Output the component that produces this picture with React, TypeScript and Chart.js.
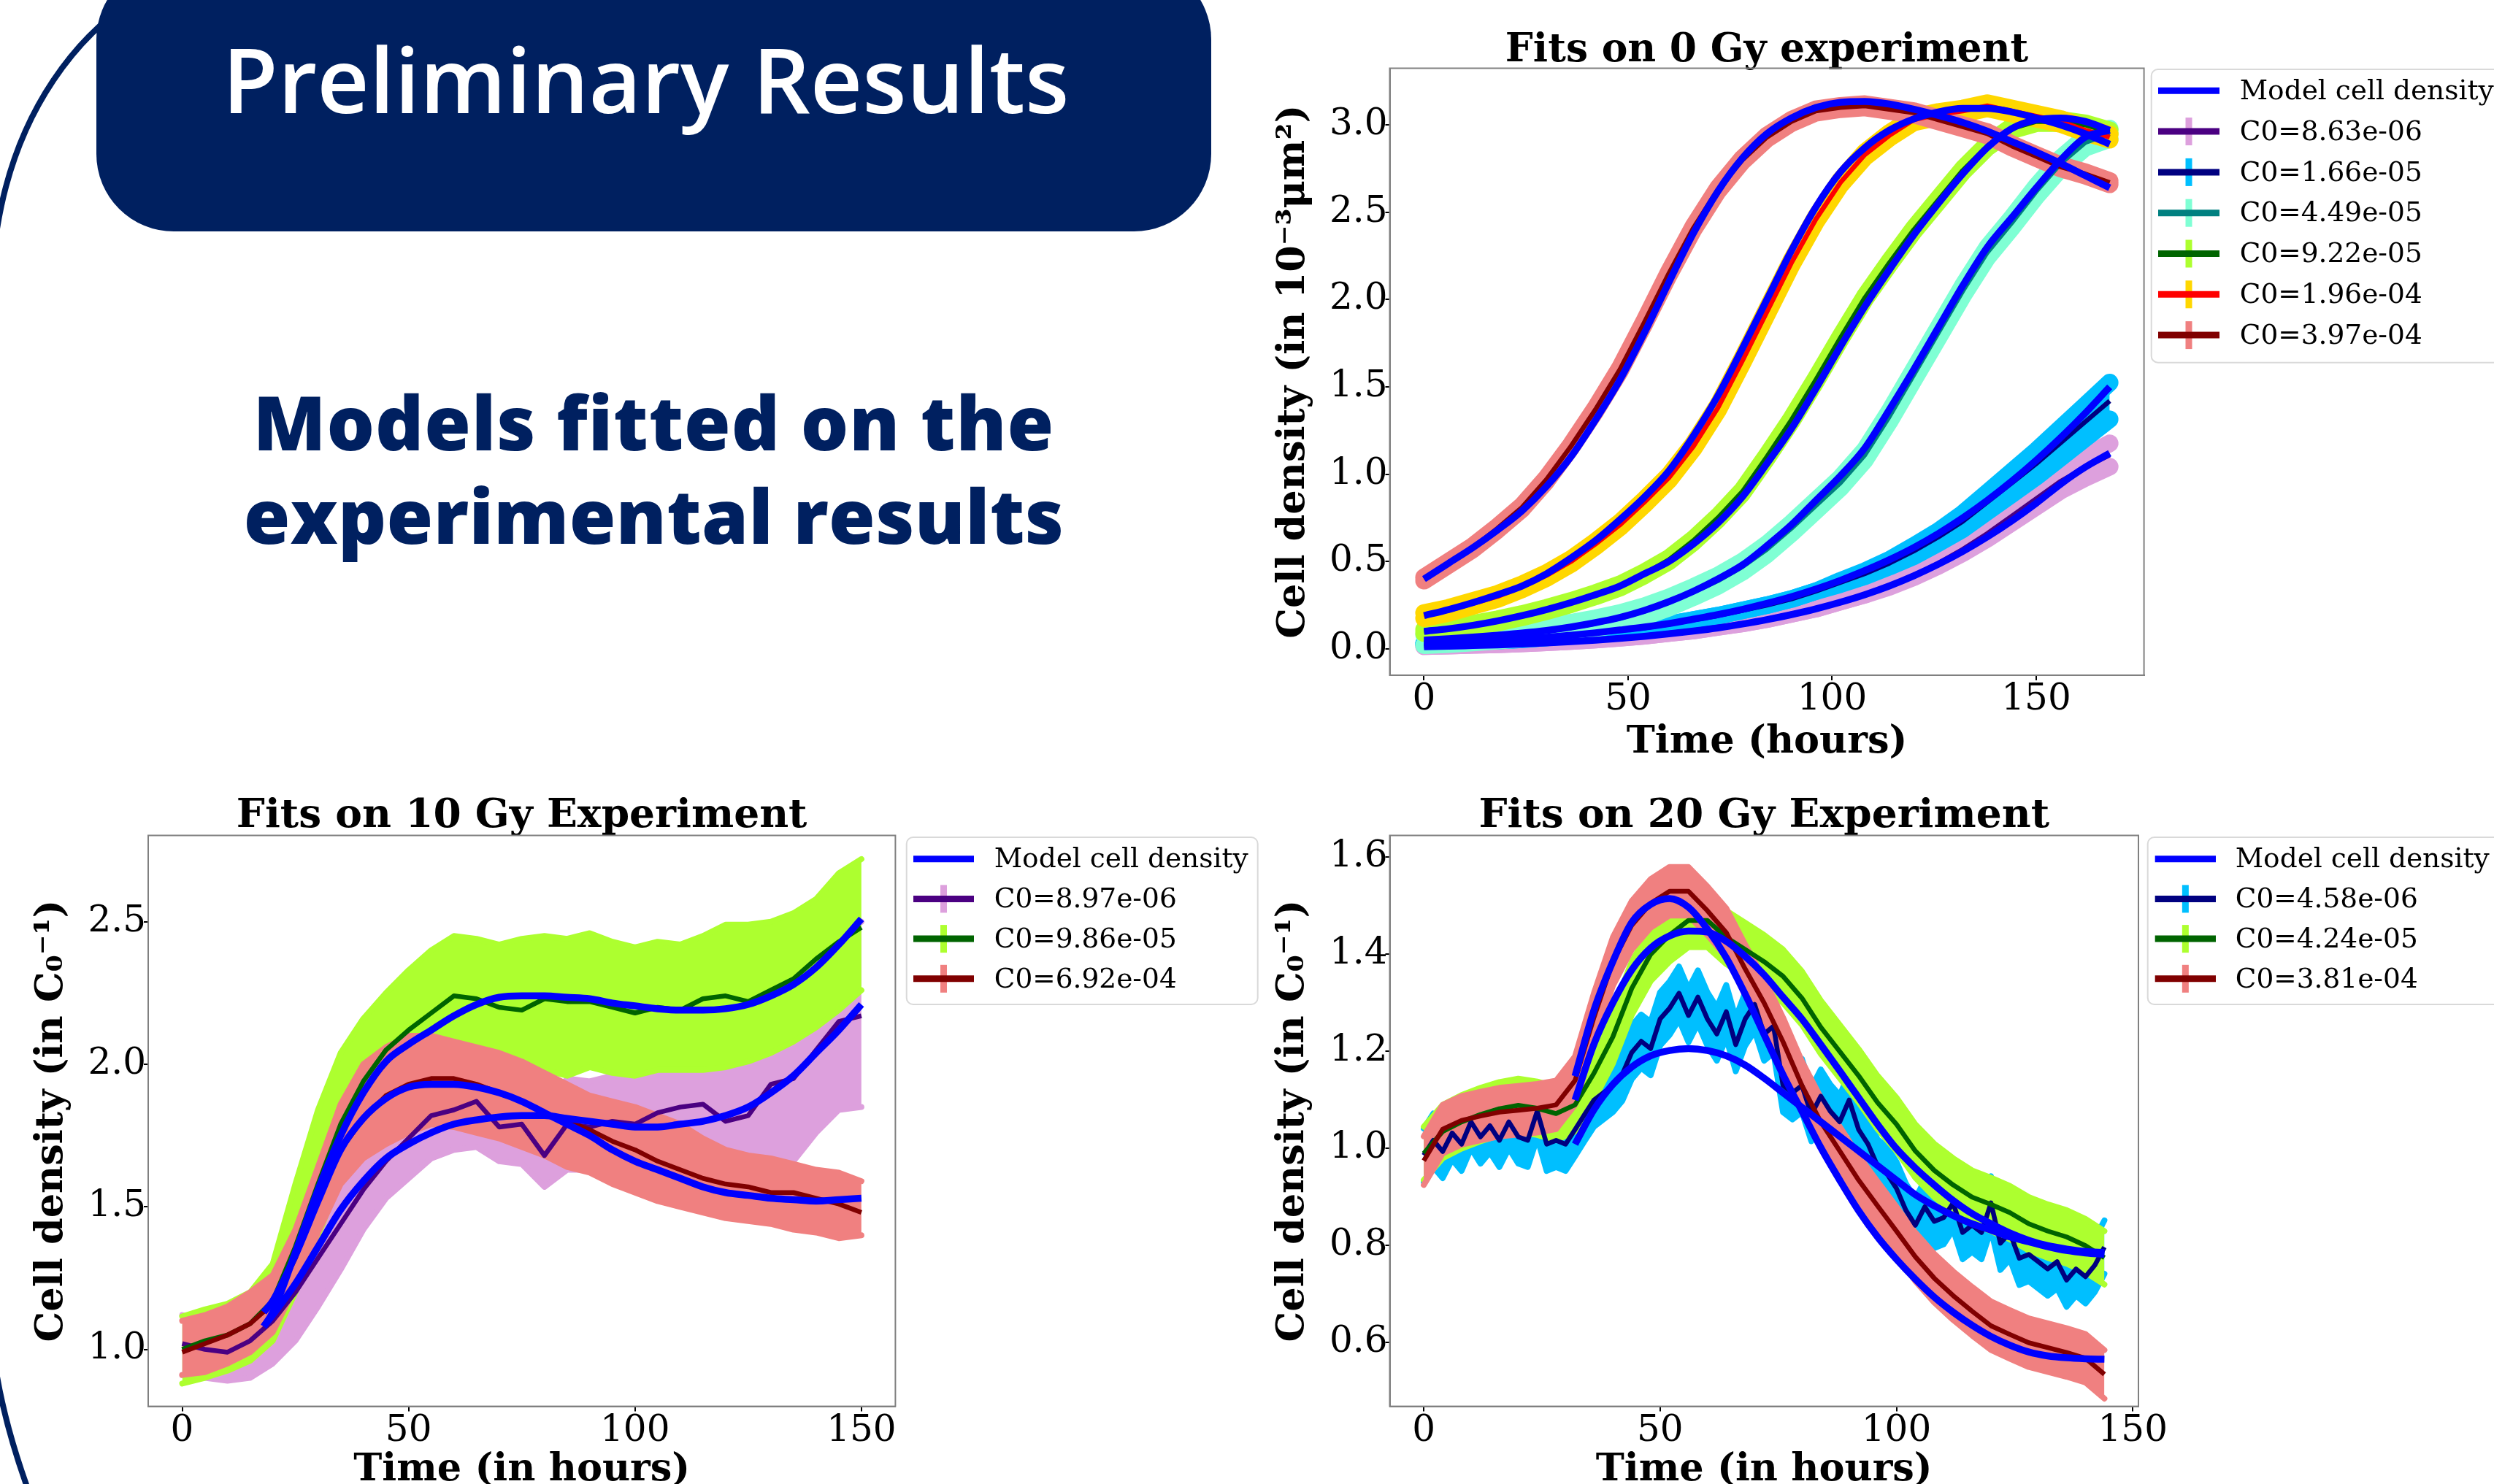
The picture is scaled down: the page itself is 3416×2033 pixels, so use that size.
import React, { useEffect, useRef } from "react";
import { Chart, registerables } from "chart.js";

Chart.register(...registerables);

const NAVY = "#002060";
const SERIF = "'DejaVu Serif', 'Liberation Serif', serif";
const FRAME = "#808080";
const MODEL_COLOR = "#0000FF";
const MODEL_LABEL = "Model cell density";

// ---------------- Fits on 0 Gy experiment ----------------
const T0 = [0, 6, 12, 18, 24, 30, 36, 42, 48, 54, 60, 66, 72, 78, 84, 90, 96, 102, 108, 114, 120, 126, 132, 138, 144, 150, 156, 162, 168];
const G0_X_TICKS = [0, 50, 100, 150];
const G0_Y_TICKS = [0, 0.5, 1.0, 1.5, 2.0, 2.5, 3.0];
const G0_LABELS = ["C0=8.63e-06", "C0=1.66e-05", "C0=4.49e-05", "C0=9.22e-05", "C0=1.96e-04", "C0=3.97e-04"];

const G0_DATA_A = [0.015, 0.018, 0.022, 0.026, 0.031, 0.037, 0.044, 0.053, 0.063, 0.075, 0.09, 0.105, 0.125, 0.145, 0.17, 0.2, 0.23, 0.27, 0.31, 0.36, 0.42, 0.49, 0.57, 0.66, 0.76, 0.86, 0.96, 1.04, 1.11];
const G0_MODEL_A = [0.012, 0.015, 0.019, 0.023, 0.028, 0.034, 0.041, 0.05, 0.06, 0.072, 0.086, 0.102, 0.12, 0.142, 0.167, 0.196, 0.229, 0.267, 0.31, 0.36, 0.418, 0.484, 0.558, 0.641, 0.733, 0.834, 0.944, 1.04, 1.12];
const G0_SPREAD_A = [0, 0, 0, 0, 0, 0, 0, 0, 0, 0, 0, 0, 0, 0, 0, 0, 0, 0, 0, 0.005, 0.01, 0.015, 0.022, 0.03, 0.038, 0.046, 0.054, 0.062, 0.067];

const G0_DATA_B = [0.03, 0.035, 0.04, 0.047, 0.055, 0.065, 0.077, 0.09, 0.105, 0.12, 0.14, 0.165, 0.19, 0.22, 0.25, 0.285, 0.33, 0.38, 0.43, 0.49, 0.56, 0.64, 0.73, 0.84, 0.95, 1.06, 1.18, 1.3, 1.42];
const G0_MODEL_B = [0.03, 0.035, 0.041, 0.048, 0.056, 0.066, 0.078, 0.092, 0.108, 0.125, 0.145, 0.17, 0.196, 0.226, 0.26, 0.298, 0.342, 0.392, 0.448, 0.51, 0.58, 0.66, 0.75, 0.85, 0.96, 1.08, 1.21, 1.35, 1.5];
const G0_SPREAD_B = [0, 0, 0, 0, 0, 0, 0, 0, 0, 0, 0, 0, 0, 0, 0, 0, 0, 0.01, 0.015, 0.02, 0.03, 0.035, 0.045, 0.055, 0.065, 0.075, 0.085, 0.095, 0.105];

const G0_DATA_C = [0.05, 0.057, 0.066, 0.076, 0.088, 0.102, 0.12, 0.145, 0.175, 0.215, 0.265, 0.325, 0.39, 0.47, 0.57, 0.69, 0.82, 0.95, 1.11, 1.33, 1.57, 1.81, 2.05, 2.27, 2.44, 2.62, 2.78, 2.9, 2.95];
const G0_MODEL_C = [0.05, 0.058, 0.067, 0.078, 0.09, 0.105, 0.125, 0.15, 0.18, 0.22, 0.27, 0.33, 0.4, 0.48, 0.59, 0.71, 0.85, 0.99, 1.15, 1.37, 1.6, 1.84, 2.08, 2.3, 2.47, 2.64, 2.8, 2.93, 2.97];
const G0_SPREAD_C = 0.03;

const G0_DATA_D = [0.1, 0.115, 0.135, 0.16, 0.19, 0.225, 0.265, 0.31, 0.36, 0.43, 0.51, 0.62, 0.75, 0.9, 1.1, 1.31, 1.54, 1.78, 2.01, 2.21, 2.4, 2.57, 2.74, 2.88, 2.98, 3.02, 3.02, 3.0, 2.96];
const G0_MODEL_D = [0.1, 0.115, 0.135, 0.16, 0.19, 0.225, 0.265, 0.31, 0.36, 0.43, 0.5, 0.6, 0.72, 0.87, 1.06, 1.26, 1.49, 1.73, 1.96, 2.17, 2.37, 2.55, 2.72, 2.87, 2.98, 3.03, 3.04, 3.02, 2.97];
const G0_SPREAD_D = 0.01;

const G0_DATA_E = [0.19, 0.22, 0.26, 0.3, 0.355, 0.42, 0.5, 0.6, 0.71, 0.84, 0.98, 1.16, 1.38, 1.65, 1.93, 2.21, 2.46, 2.67, 2.83, 2.94, 3.03, 3.06, 3.08, 3.11, 3.08, 3.05, 3.02, 2.97, 2.93];
const G0_MODEL_E = [0.19, 0.225, 0.265, 0.31, 0.36, 0.43, 0.52, 0.62, 0.74, 0.87, 1.02, 1.22, 1.45, 1.72, 2.0, 2.28, 2.53, 2.73, 2.87, 2.97, 3.035, 3.075, 3.095, 3.095, 3.075, 3.04, 3.0, 2.95, 2.89];
const G0_SPREAD_E = 0.015;

const G0_DATA_F = [0.4, 0.49, 0.58, 0.69, 0.81, 0.97, 1.16, 1.37, 1.6, 1.87, 2.15, 2.41, 2.63, 2.8, 2.93, 3.02, 3.08, 3.1, 3.11, 3.09, 3.07, 3.03, 2.99, 2.95, 2.88, 2.82, 2.76, 2.72, 2.67];
const G0_MODEL_F = [0.4, 0.49, 0.58, 0.68, 0.79, 0.93, 1.1, 1.31, 1.54, 1.81, 2.1, 2.38, 2.62, 2.81, 2.95, 3.04, 3.1, 3.13, 3.135, 3.12, 3.09, 3.055, 3.015, 2.965, 2.905, 2.845, 2.78, 2.71, 2.64];
const G0_SPREAD_F = 0.01;

// ---------------- Fits on 10 Gy Experiment ----------------
const T10 = [0, 5, 10, 15, 20, 25, 30, 35, 40, 45, 50, 55, 60, 65, 70, 75, 80, 85, 90, 95, 100, 105, 110, 115, 120, 125, 130, 135, 140, 145, 150];
const T10_MODEL = [18, 20, 25, 30, 35, 40, 45, 50, 55, 60, 65, 70, 75, 80, 85, 90, 95, 100, 105, 110, 115, 120, 125, 130, 135, 140, 145, 150];
const G10_X_TICKS = [0, 50, 100, 150];
const G10_Y_TICKS = [1.0, 1.5, 2.0, 2.5];
const G10_LABELS = ["C0=8.97e-06", "C0=9.86e-05", "C0=6.92e-04"];

const G10_DATA_A = [1.02, 1.0, 0.99, 1.03, 1.1, 1.2, 1.32, 1.44, 1.56, 1.66, 1.74, 1.82, 1.84, 1.87, 1.78, 1.79, 1.68, 1.79, 1.78, 1.8, 1.79, 1.83, 1.85, 1.86, 1.8, 1.82, 1.93, 1.95, 2.05, 2.15, 2.17];
const G10_LO_A = [0.91, 0.9, 0.89, 0.9, 0.95, 1.03, 1.15, 1.28, 1.42, 1.53, 1.6, 1.67, 1.7, 1.71, 1.66, 1.65, 1.57, 1.63, 1.63, 1.66, 1.66, 1.68, 1.69, 1.68, 1.63, 1.6, 1.66, 1.66, 1.76, 1.84, 1.85];
const G10_HI_A = [1.12, 1.1, 1.09, 1.12, 1.21, 1.36, 1.49, 1.6, 1.71, 1.8, 1.88, 1.96, 2.0, 2.02, 1.93, 1.94, 1.84, 1.95, 1.94, 1.96, 1.96, 2.0, 2.02, 2.04, 2.0, 2.0, 2.15, 2.2, 2.32, 2.45, 2.5];
const G10_MODEL_A = [1.08, 1.12, 1.23, 1.36, 1.49, 1.59, 1.67, 1.72, 1.76, 1.79, 1.805, 1.815, 1.82, 1.82, 1.81, 1.8, 1.79, 1.78, 1.78, 1.79, 1.8, 1.82, 1.85, 1.9, 1.96, 2.04, 2.12, 2.21];

const G10_DATA_B = [1.0, 1.03, 1.05, 1.09, 1.17, 1.36, 1.58, 1.79, 1.94, 2.05, 2.12, 2.18, 2.24, 2.23, 2.2, 2.19, 2.23, 2.22, 2.22, 2.2, 2.18, 2.2, 2.19, 2.23, 2.24, 2.22, 2.26, 2.3, 2.37, 2.43, 2.48];
const G10_LO_B = [0.88, 0.9, 0.925, 0.96, 1.03, 1.2, 1.4, 1.6, 1.72, 1.82, 1.9, 1.96, 1.99, 2.02, 2.01, 1.97, 1.98, 1.96, 1.99, 1.97, 1.96, 1.98, 1.98, 1.98, 1.99, 2.01, 2.04, 2.08, 2.13, 2.19, 2.26];
const G10_HI_B = [1.115, 1.14, 1.16, 1.2, 1.3, 1.58, 1.84, 2.04, 2.16, 2.25, 2.33, 2.4, 2.45, 2.44, 2.42, 2.44, 2.45, 2.44, 2.46, 2.43, 2.41, 2.43, 2.42, 2.45, 2.49, 2.49, 2.5, 2.53, 2.58, 2.67, 2.72];
const G10_MODEL_B = [1.08, 1.13, 1.34, 1.56, 1.75, 1.9, 2.01, 2.07, 2.12, 2.17, 2.21, 2.235, 2.24, 2.24, 2.235, 2.23, 2.215, 2.205, 2.195, 2.19, 2.19, 2.195, 2.21, 2.24, 2.28, 2.34, 2.42, 2.51];

const G10_DATA_C = [0.99, 1.02, 1.05, 1.09, 1.16, 1.32, 1.53, 1.7, 1.81, 1.89, 1.93, 1.95, 1.95, 1.93, 1.9, 1.87, 1.83, 1.8, 1.77, 1.73, 1.7, 1.66, 1.63, 1.6, 1.58, 1.57, 1.55, 1.55, 1.53, 1.51, 1.48];
const G10_LO_C = [0.91, 0.92, 0.95, 0.99, 1.06, 1.22, 1.41, 1.58, 1.67, 1.72, 1.76, 1.79, 1.78, 1.76, 1.74, 1.71, 1.68, 1.64, 1.62, 1.58, 1.55, 1.52, 1.5, 1.48, 1.46, 1.45, 1.44, 1.42, 1.41, 1.39, 1.4];
const G10_HI_C = [1.1, 1.12, 1.15, 1.2, 1.26, 1.42, 1.64, 1.86, 2.0, 2.06, 2.1, 2.1, 2.08, 2.06, 2.04, 2.01, 1.97, 1.93, 1.89, 1.87, 1.85, 1.82, 1.79, 1.74, 1.7, 1.68, 1.67, 1.65, 1.63, 1.62, 1.59];
const G10_MODEL_C = [1.13, 1.17, 1.33, 1.52, 1.7, 1.81, 1.88, 1.92, 1.93, 1.93, 1.92, 1.9, 1.87, 1.83, 1.79, 1.75, 1.7, 1.66, 1.63, 1.6, 1.57, 1.55, 1.54, 1.53, 1.525, 1.52, 1.525, 1.53];

// ---------------- Fits on 20 Gy Experiment ----------------
const T20_FINE = [0, 2, 4, 6, 8, 10, 12, 14, 16, 18, 20, 22, 24, 26, 28, 30, 32, 34, 36, 38, 40, 42, 44, 46, 48, 50, 52, 54, 56, 58, 60, 62, 64, 66, 68, 70, 72, 74, 76, 78, 80, 82, 84, 86, 88, 90, 92, 94, 96, 98, 100, 102, 104, 106, 108, 110, 112, 114, 116, 118, 120, 122, 124, 126, 128, 130, 132, 134, 136, 138, 140, 142, 144];
const T20 = [0, 4, 8, 12, 16, 20, 24, 28, 32, 36, 40, 44, 48, 52, 56, 60, 64, 68, 72, 76, 80, 84, 88, 92, 96, 100, 104, 108, 112, 116, 120, 124, 128, 132, 136, 140, 144];
const T20_MODEL = [32, 36, 40, 44, 48, 52, 56, 60, 64, 68, 72, 76, 80, 84, 88, 92, 96, 100, 104, 108, 112, 116, 120, 124, 128, 132, 136, 140, 144];
const G20_X_TICKS = [0, 50, 100, 150];
const G20_Y_TICKS = [0.6, 0.8, 1.0, 1.2, 1.4, 1.6];
const G20_LABELS = ["C0=4.58e-06", "C0=4.24e-05", "C0=3.81e-04"];

const G20_DATA_A = [0.986, 1.017, 0.994, 1.032, 1.009, 1.055, 1.024, 1.047, 1.017, 1.055, 1.024, 1.017, 1.077, 1.009, 1.017, 1.009, 1.039, 1.07, 1.1, 1.115, 1.13, 1.153, 1.198, 1.221, 1.206, 1.267, 1.289, 1.32, 1.274, 1.312, 1.267, 1.236, 1.282, 1.214, 1.267, 1.297, 1.236, 1.252, 1.13, 1.115, 1.13, 1.07, 1.108, 1.077, 1.055, 1.1, 1.039, 1.009, 0.964, 0.948, 0.918, 0.873, 0.842, 0.88, 0.85, 0.858, 0.888, 0.827, 0.842, 0.827, 0.888, 0.805, 0.827, 0.774, 0.782, 0.767, 0.752, 0.767, 0.729, 0.752, 0.736, 0.76, 0.797];
const G20_SPREAD_A = 0.055;
const G20_MODEL_A = [1.009, 1.08, 1.132, 1.168, 1.191, 1.202, 1.206, 1.202, 1.191, 1.172, 1.145, 1.115, 1.085, 1.055, 1.025, 0.995, 0.965, 0.935, 0.905, 0.882, 0.862, 0.845, 0.832, 0.818, 0.808, 0.798, 0.79, 0.785, 0.782];

const G20_DATA_B = [0.99, 1.035, 1.055, 1.07, 1.082, 1.089, 1.083, 1.072, 1.09, 1.155, 1.23, 1.33, 1.4, 1.44, 1.47, 1.47, 1.435, 1.41, 1.385, 1.355, 1.31, 1.25, 1.2, 1.15, 1.095, 1.05, 0.995, 0.955, 0.925, 0.9, 0.885, 0.868, 0.845, 0.83, 0.818, 0.8, 0.775];
const G20_SPREAD_B = 0.055;
const G20_MODEL_B = [1.1, 1.215, 1.3, 1.368, 1.413, 1.438, 1.448, 1.446, 1.427, 1.396, 1.358, 1.312, 1.267, 1.214, 1.16, 1.105, 1.05, 1.0, 0.96, 0.925, 0.893, 0.866, 0.845, 0.826, 0.811, 0.8, 0.793, 0.788, 0.786];

const G20_DATA_C = [0.975, 1.04, 1.058, 1.067, 1.075, 1.079, 1.083, 1.09, 1.14, 1.27, 1.385, 1.46, 1.505, 1.53, 1.53, 1.49, 1.445, 1.37, 1.3, 1.22, 1.13, 1.055, 0.995, 0.935, 0.882, 0.83, 0.777, 0.733, 0.697, 0.665, 0.635, 0.617, 0.6, 0.59, 0.58, 0.568, 0.535];
const G20_SPREAD_C = 0.05;
const G20_MODEL_C = [1.149, 1.285, 1.385, 1.466, 1.503, 1.515, 1.497, 1.452, 1.393, 1.318, 1.235, 1.152, 1.077, 1.002, 0.935, 0.872, 0.818, 0.772, 0.731, 0.694, 0.663, 0.636, 0.613, 0.595, 0.581, 0.573, 0.569, 0.567, 0.566];

// ---------------- helpers ----------------
type Series = {
  label: string;
  line: string;
  band: string;
  t: number[];
  data: number[];
  tm: number[];
  model: number[];
  lo?: number[];
  hi?: number[];
  spread?: number | number[];
};

const pts = (xs: number[], ys: number[]) => xs.map((x, i) => ({ x, y: ys[i] }));

function buildDatasets(series: Series[], bandStroke: number, lineW: number, modelW: number) {
  const ds: any[] = [];
  const n = series.length;
  series.forEach((s, i) => {
    const sp = (k: number) => (Array.isArray(s.spread) ? s.spread[k] : (s.spread as number) || 0);
    const lo = s.lo ? s.lo : s.data.map((v, k) => v - sp(k));
    const hi = s.hi ? s.hi : s.data.map((v, k) => v + sp(k));
    const order = 300 + (n - i);
    ds.push({
      label: s.label + " band low",
      data: pts(s.t, lo),
      borderColor: s.band,
      borderWidth: bandStroke,
      borderJoinStyle: "round",
      borderCapStyle: "round",
      pointRadius: 0,
      fill: false,
      order,
    });
    ds.push({
      label: s.label + " band",
      data: pts(s.t, hi),
      borderColor: s.band,
      backgroundColor: s.band,
      borderWidth: bandStroke,
      borderJoinStyle: "round",
      borderCapStyle: "round",
      pointRadius: 0,
      fill: "-1",
      order,
    });
  });
  series.forEach((s, i) => {
    ds.push({
      label: s.label,
      data: pts(s.t, s.data),
      borderColor: s.line,
      borderWidth: lineW,
      borderJoinStyle: "round",
      pointRadius: 0,
      fill: false,
      order: 200 + (n - i),
    });
  });
  series.forEach((s, i) => {
    ds.push({
      label: MODEL_LABEL + " " + s.label,
      data: pts(s.tm, s.model),
      borderColor: MODEL_COLOR,
      borderWidth: modelW,
      borderJoinStyle: "round",
      cubicInterpolationMode: "monotone",
      pointRadius: 0,
      fill: false,
      order: 100 + (n - i),
    });
  });
  return ds;
}

const framePlugin = {
  id: "frameBox",
  afterDraw(chart: any) {
    const { ctx, chartArea: a } = chart;
    ctx.save();
    ctx.strokeStyle = FRAME;
    ctx.lineWidth = 2;
    ctx.strokeRect(a.left, a.top, a.right - a.left, a.bottom - a.top);
    ctx.restore();
  },
};

function legendPlugin(l: any, series: Series[]) {
  const entries = [{ label: MODEL_LABEL, line: MODEL_COLOR, bar: null as any }].concat(
    series.map((s) => ({ label: s.label, line: s.line, bar: s.band }))
  );
  return {
    id: "boxLegend",
    afterDraw(chart: any) {
      const { ctx, chartArea } = chart;
      const x0 = chartArea.right + l.dx;
      const y0 = chartArea.top + l.dy;
      const r = 9;
      ctx.save();
      ctx.beginPath();
      ctx.moveTo(x0 + r, y0);
      ctx.lineTo(x0 + l.w - r, y0);
      ctx.arcTo(x0 + l.w, y0, x0 + l.w, y0 + r, r);
      ctx.lineTo(x0 + l.w, y0 + l.h - r);
      ctx.arcTo(x0 + l.w, y0 + l.h, x0 + l.w - r, y0 + l.h, r);
      ctx.lineTo(x0 + r, y0 + l.h);
      ctx.arcTo(x0, y0 + l.h, x0, y0 + l.h - r, r);
      ctx.lineTo(x0, y0 + r);
      ctx.arcTo(x0, y0, x0 + r, y0, r);
      ctx.closePath();
      ctx.fillStyle = "rgba(255,255,255,0.85)";
      ctx.fill();
      ctx.lineWidth = 2;
      ctx.strokeStyle = "#d9d9d9";
      ctx.stroke();
      entries.forEach((e, i) => {
        const cy = y0 + l.row0 + i * l.gap;
        const hx0 = x0 + l.hx0;
        const hx1 = x0 + l.hx1;
        if (e.bar) {
          ctx.fillStyle = e.bar;
          ctx.fillRect((hx0 + hx1) / 2 - 4.5, cy - 19, 9, 38);
        }
        ctx.strokeStyle = e.line;
        ctx.lineWidth = 9;
        ctx.lineCap = "butt";
        ctx.beginPath();
        ctx.moveTo(hx0, cy);
        ctx.lineTo(hx1, cy);
        ctx.stroke();
        ctx.fillStyle = "#000";
        ctx.font = `37.5px ${SERIF}`;
        ctx.textAlign = "left";
        ctx.textBaseline = "middle";
        ctx.fillText(e.label, x0 + l.tx, cy + 2);
      });
      ctx.restore();
    },
  };
}

function axisCommon(extra: any) {
  return {
    type: "linear",
    border: { display: true, color: FRAME, width: 2 },
    ...extra,
  };
}

function ChartPanel(props: { cfg: any }) {
  const cfg = props.cfg;
  const ref = useRef<HTMLCanvasElement | null>(null);
  useEffect(() => {
    const canvas = ref.current;
    if (!canvas) return;
    const chart = new Chart(canvas, {
      type: "line",
      data: { datasets: buildDatasets(cfg.series, cfg.bandStroke, cfg.lineW, cfg.modelW) },
      options: {
        animation: false,
        responsive: false,
        maintainAspectRatio: false,
        devicePixelRatio: 1,
        events: [],
        layout: { padding: { left: 0, top: 0, right: cfg.padRight, bottom: 0 } },
        plugins: {
          legend: { display: false },
          tooltip: { enabled: false },
          title: {
            display: true,
            text: cfg.title,
            fullSize: false,
            color: "#000",
            font: { family: SERIF, size: cfg.titleSize, weight: "bold", lineHeight: 0.8 },
            padding: { top: cfg.titleTop, bottom: cfg.titleBottom },
          },
        },
        scales: {
          x: axisCommon({
            position: "bottom",
            min: cfg.xMin,
            max: cfg.xMax,
            afterFit: (s: any) => {
              s.height = cfg.xAxisH;
            },
            afterBuildTicks: (s: any) => {
              s.ticks = cfg.xTicks.map((v: number) => ({ value: v }));
            },
            grid: { display: true, drawOnChartArea: false, drawTicks: true, tickLength: 7, color: "#000", lineWidth: 2 },
            ticks: {
              autoSkip: false,
              maxRotation: 0,
              color: "#000",
              padding: 2,
              font: { family: SERIF, size: 50, lineHeight: 1 },
              callback: (v: any) => String(v),
            },
            title: {
              display: true,
              text: cfg.xTitle,
              color: "#000",
              font: { family: SERIF, size: 52.5, weight: "bold", lineHeight: 1.2 },
              padding: { top: 0, bottom: 0 },
            },
          }),
          y: axisCommon({
            position: "left",
            min: cfg.yMin,
            max: cfg.yMax,
            afterFit: (s: any) => {
              s.width = cfg.yAxisW;
            },
            afterBuildTicks: (s: any) => {
              s.ticks = cfg.yTicks.map((v: number) => ({ value: v }));
            },
            grid: { display: true, drawOnChartArea: false, drawTicks: true, tickLength: 6, color: "#000", lineWidth: 2 },
            ticks: {
              autoSkip: false,
              color: "#000",
              padding: -3,
              font: { family: SERIF, size: 50, lineHeight: 1 },
              callback: (v: any) => Number(v).toFixed(1),
            },
            title: {
              display: true,
              text: cfg.yTitle,
              color: "#000",
              font: { family: SERIF, size: 52.5, weight: "bold", lineHeight: 1.2 },
              padding: { top: 0, bottom: 0 },
            },
          }),
        },
      } as any,
      plugins: [framePlugin, legendPlugin(cfg.legend, cfg.series)],
    } as any);
    return () => chart.destroy();
  }, []);
  return (
    <canvas
      ref={ref}
      width={cfg.w}
      height={cfg.h}
      style={{ position: "absolute", left: cfg.left, top: cfg.top, width: cfg.w, height: cfg.h }}
    />
  );
}

const SERIES_0: Series[] = [
  { label: G0_LABELS[0], line: "#4B0082", band: "#DDA0DD", t: T0, data: G0_DATA_A, tm: T0, model: G0_MODEL_A, spread: G0_SPREAD_A },
  { label: G0_LABELS[1], line: "#000080", band: "#00BFFF", t: T0, data: G0_DATA_B, tm: T0, model: G0_MODEL_B, spread: G0_SPREAD_B },
  { label: G0_LABELS[2], line: "#008080", band: "#7FFFD4", t: T0, data: G0_DATA_C, tm: T0, model: G0_MODEL_C, spread: G0_SPREAD_C },
  { label: G0_LABELS[3], line: "#006400", band: "#ADFF2F", t: T0, data: G0_DATA_D, tm: T0, model: G0_MODEL_D, spread: G0_SPREAD_D },
  { label: G0_LABELS[4], line: "#FF0000", band: "#FFD700", t: T0, data: G0_DATA_E, tm: T0, model: G0_MODEL_E, spread: G0_SPREAD_E },
  { label: G0_LABELS[5], line: "#800000", band: "#F08080", t: T0, data: G0_DATA_F, tm: T0, model: G0_MODEL_F, spread: G0_SPREAD_F },
];

const SERIES_10: Series[] = [
  { label: G10_LABELS[0], line: "#4B0082", band: "#DDA0DD", t: T10, data: G10_DATA_A, tm: T10_MODEL, model: G10_MODEL_A, lo: G10_LO_A, hi: G10_HI_A },
  { label: G10_LABELS[1], line: "#006400", band: "#ADFF2F", t: T10, data: G10_DATA_B, tm: T10_MODEL, model: G10_MODEL_B, lo: G10_LO_B, hi: G10_HI_B },
  { label: G10_LABELS[2], line: "#800000", band: "#F08080", t: T10, data: G10_DATA_C, tm: T10_MODEL, model: G10_MODEL_C, lo: G10_LO_C, hi: G10_HI_C },
];

const SERIES_20: Series[] = [
  { label: G20_LABELS[0], line: "#000080", band: "#00BFFF", t: T20_FINE, data: G20_DATA_A, tm: T20_MODEL, model: G20_MODEL_A, spread: G20_SPREAD_A },
  { label: G20_LABELS[1], line: "#006400", band: "#ADFF2F", t: T20, data: G20_DATA_B, tm: T20_MODEL, model: G20_MODEL_B, spread: G20_SPREAD_B },
  { label: G20_LABELS[2], line: "#800000", band: "#F08080", t: T20, data: G20_DATA_C, tm: T20_MODEL, model: G20_MODEL_C, spread: G20_SPREAD_C },
];

const CFG_0 = {
  left: 1741, top: 0, w: 1675, h: 1049,
  padRight: 479.4, yAxisW: 162.5, xAxisH: 124,
  titleSize: 53.5, titleTop: 49.1, titleBottom: 1.6,
  xMin: -8.4, xMax: 176.4, yMin: -0.151, yMax: 3.325,
  xTicks: G0_X_TICKS, yTicks: G0_Y_TICKS,
  title: "Fits on 0 Gy experiment", xTitle: "Time (hours)", yTitle: "Cell density (in 10\u207B\u00B3\u03BCm\u00B2)",
  series: SERIES_0, bandStroke: 24, lineW: 6.5, modelW: 9.5,
  legend: { dx: 10.1, dy: 1.5, w: 560, h: 401.7, row0: 29.3, gap: 55.8, hx0: 9.3, hx1: 93.3, tx: 121 },
};

const CFG_10 = {
  left: 40, top: 1040, w: 1695, h: 1006,
  padRight: 508.6, yAxisW: 163, xAxisH: 119.4,
  titleSize: 55, titleTop: 57, titleBottom: 3.5,
  xMin: -7.5, xMax: 157.5, yMin: 0.8, yMax: 2.803,
  xTicks: G10_X_TICKS, yTicks: G10_Y_TICKS,
  title: "Fits on 10 Gy Experiment", xTitle: "Time (in hours)", yTitle: "Cell density (in C\u2080\u207B\u00B9)",
  series: SERIES_10, bandStroke: 8, lineW: 6.5, modelW: 9.5,
  legend: { dx: 15.3, dy: 2.5, w: 481, h: 229, row0: 29.7, gap: 54.7, hx0: 9.3, hx1: 92.3, tx: 120 },
};

const CFG_20 = {
  left: 1740, top: 1040, w: 1676, h: 1006,
  padRight: 487, yAxisW: 163.5, xAxisH: 119.4,
  titleSize: 55, titleTop: 57, titleBottom: 3.5,
  xMin: -7.2, xMax: 151.2, yMin: 0.469, yMax: 1.645,
  xTicks: G20_X_TICKS, yTicks: G20_Y_TICKS,
  title: "Fits on 20 Gy Experiment", xTitle: "Time (in hours)", yTitle: "Cell density (in C\u2080\u207B\u00B9)",
  series: SERIES_20, bandStroke: 8, lineW: 6.5, modelW: 9.5,
  legend: { dx: 12.7, dy: 2.5, w: 560, h: 229, row0: 29.7, gap: 54.7, hx0: 10, hx1: 93.3, tx: 120 },
};

const headingStyle = (left: number, top: number, size: number, weight: number, color: string, spacing: number) => ({
  position: "absolute" as const,
  left,
  top,
  width: 1527,
  textAlign: "center" as const,
  color,
  fontFamily: "'Open Sans', 'Lato', sans-serif",
  fontWeight: weight,
  fontSize: size,
  lineHeight: `${size}px`,
  letterSpacing: `${spacing}px`,
  whiteSpace: "nowrap" as const,
});

export default function App() {
  return (
    <div
      style={{
        position: "fixed",
        left: 0,
        top: 0,
        width: 3416,
        height: 2033,
        overflow: "hidden",
        background: "#ffffff",
      }}
    >
      <svg width={3416} height={2033} style={{ position: "absolute", left: 0, top: 0 }}>
        <path d="M 200 -10 C 110 40, 20 150, -5 320" stroke={NAVY} strokeWidth={8} fill="none" />
        <path d="M -5 1880 C 5 1940, 20 1990, 40 2045" stroke={NAVY} strokeWidth={8} fill="none" />
      </svg>
      <div
        style={{
          position: "absolute",
          left: 132,
          top: -52,
          width: 1527,
          height: 369,
          borderRadius: 106,
          background: NAVY,
        }}
      />
      <div style={headingStyle(121, 45, 124, 600, "#ffffff", 0)}>Preliminary Results</div>
      <div style={headingStyle(132, 526, 103, 800, NAVY, 1)}>Models fitted on the</div>
      <div style={headingStyle(132, 654, 103, 800, NAVY, 0.4)}>experimental results</div>
      <ChartPanel cfg={CFG_0} />
      <ChartPanel cfg={CFG_10} />
      <ChartPanel cfg={CFG_20} />
    </div>
  );
}
